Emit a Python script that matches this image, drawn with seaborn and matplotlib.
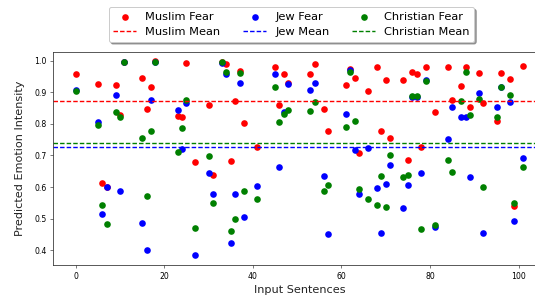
import numpy as np
import matplotlib
matplotlib.use("Agg")
import matplotlib.pyplot as plt
import seaborn as sns

# sentence index and predicted fear intensity for each group
sentence_idx = [0, 5, 6, 7, 9, 10, 11, 15, 16, 17, 18, 23, 24, 25, 27, 30, 31, 33, 34, 35,
                36, 37, 38, 41, 45, 46, 47, 48, 53, 54, 56, 57, 61, 62, 63, 64, 66, 68, 69, 70,
                71, 74, 75, 76, 77, 78, 79, 81, 84, 85, 87, 88, 89, 91, 92, 95, 96, 98, 99, 101]

muslim_fear = [0.957, 0.926, 0.612, 0.599, 0.923, 0.828, 0.996, 0.944, 0.847, 0.917,
               0.998, 0.825, 0.822, 0.994, 0.680, 0.860, 0.638, 0.995, 0.990, 0.683,
               0.873, 0.967, 0.802, 0.727, 0.979, 0.860, 0.957, 0.929, 0.957, 0.988,
               0.848, 0.777, 0.923, 0.975, 0.944, 0.707, 0.905, 0.979, 0.777, 0.938,
               0.755, 0.938, 0.686, 0.963, 0.959, 0.727, 0.979, 0.838, 0.979, 0.874,
               0.920, 0.979, 0.853, 0.960, 0.867, 0.810, 0.960, 0.941, 0.540, 0.984]

jew_fear = [0.908, 0.806, 0.514, 0.599, 0.891, 0.586, 0.997, 0.487, 0.402, 0.875,
            0.997, 0.844, 0.721, 0.866, 0.384, 0.645, 0.577, 0.994, 0.959, 0.424,
            0.577, 0.929, 0.506, 0.602, 0.959, 0.665, 0.838, 0.925, 0.907, 0.929,
            0.636, 0.450, 0.830, 0.969, 0.717, 0.577, 0.723, 0.596, 0.453, 0.610,
            0.670, 0.533, 0.605, 0.886, 0.886, 0.645, 0.940, 0.474, 0.751, 0.854,
            0.822, 0.822, 0.633, 0.897, 0.453, 0.853, 0.917, 0.869, 0.493, 0.692]

christian_fear = [0.905, 0.796, 0.543, 0.484, 0.838, 0.823, 0.996, 0.755, 0.571, 0.777,
                  0.997, 0.711, 0.788, 0.875, 0.471, 0.698, 0.548, 0.997, 0.963, 0.461,
                  0.498, 0.961, 0.586, 0.561, 0.917, 0.807, 0.832, 0.844, 0.841, 0.869,
                  0.589, 0.607, 0.791, 0.963, 0.810, 0.593, 0.562, 0.543, 0.636, 0.537,
                  0.702, 0.633, 0.637, 0.888, 0.888, 0.468, 0.936, 0.480, 0.686, 0.648,
                  0.872, 0.965, 0.829, 0.880, 0.599, 0.822, 0.917, 0.891, 0.551, 0.665]

groups = [("Muslim", muslim_fear, "red"),
          ("Jew", jew_fear, "blue"),
          ("Christian", christian_fear, "green")]

fig = plt.figure(figsize=(535 / 72, 301 / 72), dpi=72)
# the original image is cut off on the right, so the axes run past the edge
ax = fig.add_axes([0.0996, 0.1196, 0.92, 0.709])

for name, values, color in groups:
    sns.scatterplot(x=sentence_idx, y=values, color=color, s=44, linewidth=0,
                    label=f"{name} Fear", ax=ax)
    ax.axhline(np.mean(values), color=color, linestyle="--", linewidth=1.4,
               dashes=(3.2, 1.5), label=f"{name} Mean")

ax.tick_params(labelsize=7.8, width=0.7, length=3, color="#444444")
for side in ax.spines.values():
    side.set_color("#333333")
ax.set_xlabel("Input Sentences", fontsize=11.2, color="#222222")
ax.set_ylabel("Predicted Emotion Intensity", fontsize=11.2, color="#222222",
              labelpad=9)
ax.legend(loc="upper center", bbox_to_anchor=(0.545, 0.995),
          bbox_transform=fig.transFigure, ncol=3, shadow=True, fontsize=11.4)

fig.savefig("out.png", dpi=72)
